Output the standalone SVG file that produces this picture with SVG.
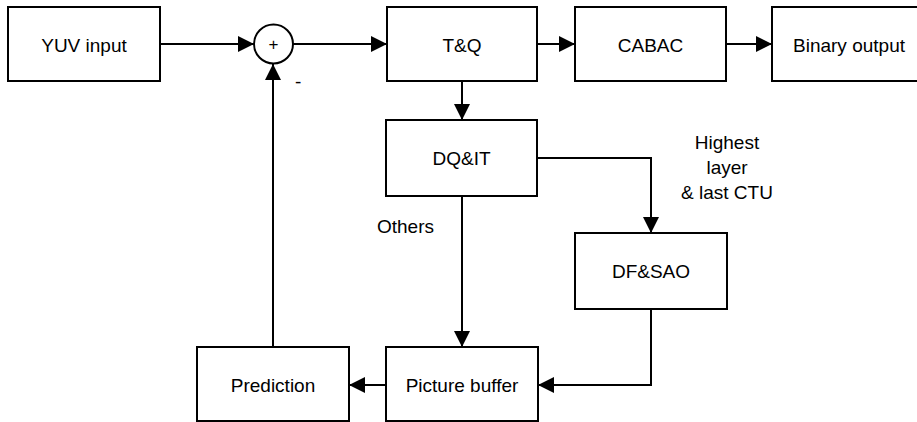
<svg xmlns="http://www.w3.org/2000/svg" width="917" height="422" viewBox="0 0 917 422">
  <style>
    .box { fill: #ffffff; stroke: #000000; stroke-width: 2; }
    .lbl { font-family: "Liberation Sans", Arial, sans-serif; font-size: 19px; fill: #000000; text-anchor: middle; }
    .note { font-family: "Liberation Sans", Arial, sans-serif; font-size: 19px; fill: #000000; }
    .wire { fill: none; stroke: #000000; stroke-width: 2; }
  </style>
  <defs>
    <marker id="arrow" markerUnits="userSpaceOnUse" markerWidth="16" markerHeight="16" refX="16" refY="8" orient="auto">
      <path d="M0,0 L16,8 L0,16 z" fill="#000000"/>
    </marker>
  </defs>
  <rect width="917" height="422" fill="#ffffff"/>

  <!-- connectors -->
  <g id="connectors">
    <path class="wire" d="M160,44 H254" marker-end="url(#arrow)"/>
    <path class="wire" d="M293,44 H387" marker-end="url(#arrow)"/>
    <path class="wire" d="M537,44 H575" marker-end="url(#arrow)"/>
    <path class="wire" d="M726,44 H772" marker-end="url(#arrow)"/>
    <path class="wire" d="M462,81 V120" marker-end="url(#arrow)"/>
    <path class="wire" d="M537,158 H651 V233" marker-end="url(#arrow)"/>
    <path class="wire" d="M462,196 V347" marker-end="url(#arrow)"/>
    <path class="wire" d="M651,309 V385 H538" marker-end="url(#arrow)"/>
    <path class="wire" d="M386,385 H349" marker-end="url(#arrow)"/>
    <path class="wire" d="M273,347 V64" marker-end="url(#arrow)"/>
    <text class="note" x="295" y="88">-</text>
    <text class="note" x="377" y="233">Others</text>
    <text class="lbl" x="727" y="149">Highest</text>
    <text class="lbl" x="727" y="174">layer</text>
    <text class="lbl" x="727" y="199">&amp; last CTU</text>
  </g>

  <g id="yuv-input">
    <rect class="box" x="8" y="7" width="152" height="74"/>
    <text class="lbl" x="84" y="51.5">YUV input</text>
  </g>
  <g id="adder">
    <circle class="box" cx="273.5" cy="44" r="19.5"/>
    <text class="lbl" x="273.5" y="50" style="font-size:17px">+</text>
  </g>
  <g id="tq">
    <rect class="box" x="387" y="7" width="150" height="74"/>
    <text class="lbl" x="462" y="51.5">T&amp;Q</text>
  </g>
  <g id="cabac">
    <rect class="box" x="575" y="7" width="151" height="74"/>
    <text class="lbl" x="650.5" y="51.5">CABAC</text>
  </g>
  <g id="binary-output">
    <rect class="box" x="772" y="7" width="152" height="74"/>
    <text class="lbl" x="849" y="51.5">Binary output</text>
  </g>
  <g id="dqit">
    <rect class="box" x="386" y="120" width="151" height="76"/>
    <text class="lbl" x="461.5" y="165">DQ&amp;IT</text>
  </g>
  <g id="dfsao">
    <rect class="box" x="575" y="233" width="152" height="76"/>
    <text class="lbl" x="651" y="278">DF&amp;SAO</text>
  </g>
  <g id="prediction">
    <rect class="box" x="197" y="347" width="152" height="74"/>
    <text class="lbl" x="273" y="391.5">Prediction</text>
  </g>
  <g id="picture-buffer">
    <rect class="box" x="386" y="347" width="152" height="74"/>
    <text class="lbl" x="462" y="391.5">Picture buffer</text>
  </g>
</svg>
